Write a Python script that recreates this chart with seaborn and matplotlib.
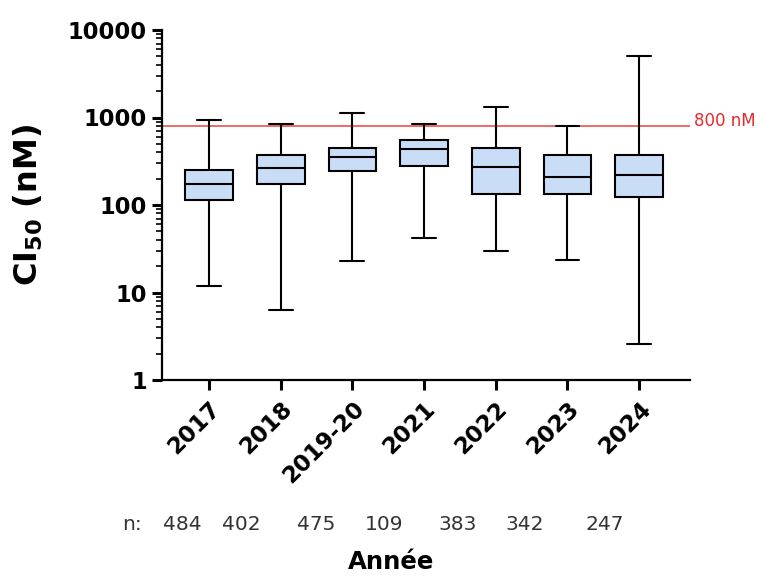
import matplotlib
matplotlib.use("Agg")
import matplotlib.pyplot as plt
import matplotlib.transforms as mtransforms
from matplotlib.ticker import FixedLocator, LogLocator, NullFormatter
import numpy as np
import pandas as pd
import seaborn as sns

# IC50 distribution per sampling year (nM): min, quartiles, max
years = ["2017", "2018", "2019-20", "2021", "2022", "2023", "2024"]
ic50_min = [11.8, 6.3, 23.1, 41.5, 29.5, 23.3, 2.55]
ic50_q1 = [113, 173, 243, 280, 132, 132, 124]
ic50_median = [174, 267, 357, 433, 270, 211, 221]
ic50_q3 = [254, 376, 452, 553, 452, 373, 373]
ic50_max = [935, 842, 1125, 842, 1302, 805, 5056]
n_counts = [484, 402, 475, 109, 383, 342, 247]
threshold_nM = 800
y_ticks = [1, 10, 100, 1000, 10000]

# Five values per year reproduce the five-number summary exactly
rows = []
for year, lo, q1, med, q3, hi in zip(years, ic50_min, ic50_q1, ic50_median, ic50_q3, ic50_max):
    for v in (lo, q1, med, q3, hi):
        rows.append({"Année": year, "CI50": v})
df = pd.DataFrame(rows)

sns.set_theme(style="ticks")
plt.rcParams["font.family"] = ["DejaVu Sans"]
plt.rcParams["mathtext.fontset"] = "dejavusans"
plt.rcParams["text.color"] = "black"
plt.rcParams["xtick.color"] = "black"
plt.rcParams["ytick.color"] = "black"
plt.rcParams["xtick.labelcolor"] = "black"
plt.rcParams["ytick.labelcolor"] = "black"

W, H = 761, 576
fig = plt.figure(figsize=(W / 100, H / 100), dpi=100)
ax = fig.add_axes([162 / W, 1 - 380 / H, (690 - 162) / W, (380 - 30) / H])

sns.boxplot(
    data=df, x="Année", y="CI50", order=years,
    whis=(0, 100), width=0.665, color="#C9DDF7", saturation=1,
    linecolor="black", linewidth=1.5, fliersize=0,
    log_scale=True, ax=ax,
)

ax.axhline(threshold_nM, color="#EE6A6A", lw=1.4, zorder=1)
ax.text(6.764, threshold_nM, "800 nM", color="#E8282B", fontsize=12,
        ha="left", va="baseline", clip_on=False)

ax.set_yscale("log")
ax.set_ylim(1, 10000)
ax.set_xlim(-0.656, 6.71)
ax.yaxis.set_major_locator(FixedLocator(y_ticks))
ax.set_yticklabels([str(t) for t in y_ticks], fontsize=16.3, fontweight="bold",
                   color="black")
ax.yaxis.set_minor_locator(LogLocator(base=10, subs=np.arange(2, 10)))
ax.yaxis.set_minor_formatter(NullFormatter())

ax.set_xticks(range(len(years)))
ax.set_xticklabels(years, rotation=45, ha="right", va="top",
                   rotation_mode="anchor", fontsize=16.5, fontweight="bold",
                   color="black")
ax.set_xlabel("")
ax.set_ylabel("")

sns.despine(ax=ax)
for side in ("left", "bottom"):
    ax.spines[side].set_linewidth(1.6)
    ax.spines[side].set_color("black")
ax.tick_params(axis="y", which="major", length=7.5, width=2.2, color="black", pad=3.5)
ax.tick_params(axis="x", which="major", length=7.5, width=2.2, color="black", pad=5)
ax.tick_params(axis="y", which="minor", length=4.5, width=1.2, color="black")
ax.tick_params(axis="x", which="minor", length=0)

# Sample sizes under each year
n_offsets = [-0.377, -0.547, -0.508, -0.559, -0.533, -0.593, -0.484]
trans = mtransforms.blended_transform_factory(ax.transData, fig.transFigure)
y_n = 1 - 530 / H
ax.text(-0.934, y_n, "n:", transform=trans, fontsize=14.5, color="#333333",
        ha="right", va="baseline", clip_on=False)
for i, (cnt, off) in enumerate(zip(n_counts, n_offsets)):
    ax.text(i + off, y_n, str(cnt), transform=trans, fontsize=14.5, color="#333333",
            ha="center", va="baseline", clip_on=False)

fig.text(28.5 / W, 1 - 205 / H, r"CI$_{\mathbf{50}}$ (nM)", rotation=90,
         fontsize=23, fontweight="bold", ha="center", va="center", color="black")
fig.text(391 / W, 1 - 569 / H, "Année", fontsize=17.6, fontweight="bold",
         ha="center", va="baseline", color="black")

fig.savefig("out.png", dpi=100)
